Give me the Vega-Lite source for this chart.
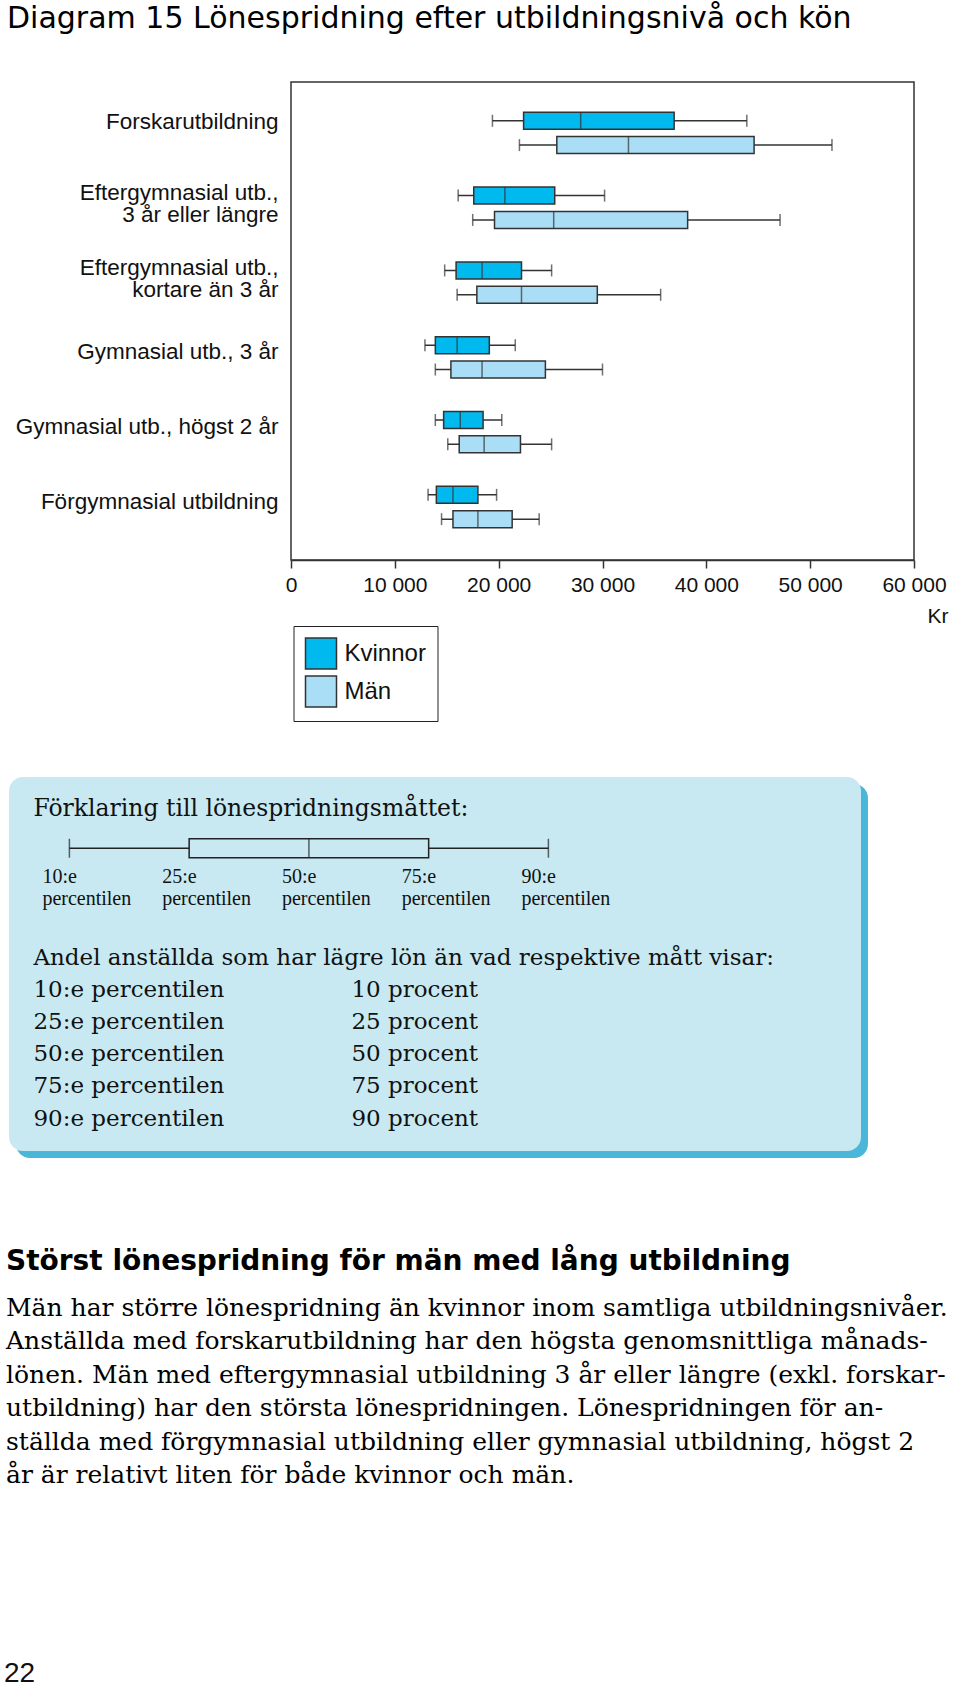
{
  "$schema": "https://vega.github.io/schema/vega-lite/v6.json",
  "padding": {"left": 4, "top": 3, "right": 0, "bottom": 0},
  "background": "white",
  "title": {"text": "Diagram 15 Lönespridning efter utbildningsnivå och kön", "anchor": "start", "dx": 3, "font": "DejaVu Sans", "fontSize": 30, "fontWeight": "normal", "color": "#000", "offset": 47.5},
  "config": {"view": {"stroke": null}, "font": "Liberation Sans"},
  "datasets": {
    "lon": [
      {"utbildning": "Forskarutbildning", "kon": "Kvinnor", "p10": 19400, "p25": 22400, "p50": 27900, "p75": 36900, "p90": 43900},
      {"utbildning": "Forskarutbildning", "kon": "Män", "p10": 22000, "p25": 25600, "p50": 32500, "p75": 44600, "p90": 52100},
      {"utbildning": "Eftergymnasial utb.,\n3 år eller längre", "kon": "Kvinnor", "p10": 16100, "p25": 17600, "p50": 20600, "p75": 25400, "p90": 30200},
      {"utbildning": "Eftergymnasial utb.,\n3 år eller längre", "kon": "Män", "p10": 17500, "p25": 19600, "p50": 25300, "p75": 38200, "p90": 47100},
      {"utbildning": "Eftergymnasial utb.,\nkortare än 3 år", "kon": "Kvinnor", "p10": 14800, "p25": 15900, "p50": 18400, "p75": 22200, "p90": 25100},
      {"utbildning": "Eftergymnasial utb.,\nkortare än 3 år", "kon": "Män", "p10": 16000, "p25": 17900, "p50": 22200, "p75": 29500, "p90": 35600},
      {"utbildning": "Gymnasial utb., 3 år", "kon": "Kvinnor", "p10": 12900, "p25": 13900, "p50": 16000, "p75": 19100, "p90": 21600},
      {"utbildning": "Gymnasial utb., 3 år", "kon": "Män", "p10": 13900, "p25": 15400, "p50": 18400, "p75": 24500, "p90": 30000},
      {"utbildning": "Gymnasial utb., högst 2 år", "kon": "Kvinnor", "p10": 13900, "p25": 14700, "p50": 16300, "p75": 18500, "p90": 20300},
      {"utbildning": "Gymnasial utb., högst 2 år", "kon": "Män", "p10": 15100, "p25": 16200, "p50": 18600, "p75": 22100, "p90": 25100},
      {"utbildning": "Förgymnasial utbildning", "kon": "Kvinnor", "p10": 13200, "p25": 14000, "p50": 15600, "p75": 18000, "p90": 19800},
      {"utbildning": "Förgymnasial utbildning", "kon": "Män", "p10": 14500, "p25": 15600, "p50": 18000, "p75": 21300, "p90": 23900}
    ],
    "exempel": [
      {"rad": "låda", "p10": "10:e", "p25": "25:e", "p50": "50:e", "p75": "75:e", "p90": "90:e"}
    ],
    "etiketter": [
      {"rad": "etikett", "percentil": "10:e", "etikett": "10:e\npercentilen"},
      {"rad": "etikett", "percentil": "25:e", "etikett": "25:e\npercentilen"},
      {"rad": "etikett", "percentil": "50:e", "etikett": "50:e\npercentilen"},
      {"rad": "etikett", "percentil": "75:e", "etikett": "75:e\npercentilen"},
      {"rad": "etikett", "percentil": "90:e", "etikett": "90:e\npercentilen"}
    ],
    "tabell": [
      {"rad": "Andel anställda som har lägre lön än vad respektive mått visar:"},
      {"rad": "10:e percentilen", "andel": "10 procent"},
      {"rad": "25:e percentilen", "andel": "25 procent"},
      {"rad": "50:e percentilen", "andel": "50 procent"},
      {"rad": "75:e percentilen", "andel": "75 procent"},
      {"rad": "90:e percentilen", "andel": "90 procent"}
    ]
  },
  "vconcat": [
    {
      "spacing": 150,
      "vconcat": [
        {
          "width": 623,
          "height": 478,
          "view": {"stroke": "#333", "strokeWidth": 1.5},
          "data": {"name": "lon"},
          "encoding": {
            "y": {"field": "utbildning", "type": "nominal", "sort": null,
              "scale": {"domain": ["Forskarutbildning", "Eftergymnasial utb.,\n3 år eller längre", "Eftergymnasial utb.,\nkortare än 3 år", "Gymnasial utb., 3 år", "Gymnasial utb., högst 2 år", "Förgymnasial utbildning"], "paddingInner": 0, "paddingOuter": 0.195, "align": 0.465},
              "axis": {"title": null, "ticks": false, "domain": false, "labelPadding": 13, "labelFont": "Liberation Sans", "labelFontSize": 22.5, "labelColor": "#111", "labelLimit": 400, "labelLineHeight": 22.5, "labelExpr": "split(datum.label, '\\n')",
                "labelOffset": {"condition": [{"test": "indexof(datum.label, 'Efter') === 0", "value": -15}, {"test": "datum.label === 'Forskarutbildning'", "value": -11}], "value": -5}}},
            "yOffset": {"field": "kon", "type": "nominal", "scale": {"domain": ["Kvinnor", "Män"], "paddingInner": 0, "paddingOuter": 0.539}}
          },
          "layer": [
            {"mark": {"type": "rule", "color": "#333", "strokeWidth": 1.5},
             "encoding": {
               "x": {"field": "p10", "type": "quantitative", "scale": {"domain": [0, 60000], "nice": false},
                 "axis": {"title": "Kr", "values": [0, 10000, 20000, 30000, 40000, 50000, 60000], "labelExpr": "replace(format(datum.value, ',d'), ',', ' ')", "grid": false, "tickSize": 8, "tickWidth": 1.5, "tickColor": "#333", "domainColor": "#333", "domainWidth": 1.5, "labelFont": "Liberation Sans", "labelFontSize": 21, "labelColor": "#111", "labelPadding": 6, "labelFlush": false, "labelOverlap": false, "titleFont": "Liberation Sans", "titleFontSize": 21, "titleFontWeight": "normal", "titleColor": "#111", "titleAnchor": "end", "titleAlign": "right", "titleX": 657, "titlePadding": 10}},
               "x2": {"field": "p90"}}},
            {"mark": {"type": "tick", "orient": "vertical", "size": 12, "thickness": 1.5, "color": "#333"},
             "encoding": {"x": {"field": "p10", "type": "quantitative"}}},
            {"mark": {"type": "tick", "orient": "vertical", "size": 12, "thickness": 1.5, "color": "#333"},
             "encoding": {"x": {"field": "p90", "type": "quantitative"}}},
            {"mark": {"type": "bar", "height": 17, "stroke": "#333", "strokeWidth": 1.5},
             "encoding": {
               "x": {"field": "p25", "type": "quantitative"},
               "x2": {"field": "p75"},
               "fill": {"field": "kon", "type": "nominal", "scale": {"domain": ["Kvinnor", "Män"], "range": ["#00b9ee", "#aadef6"]},
                 "legend": {"title": null, "orient": "none", "legendX": 2.5, "legendY": 544, "direction": "vertical", "symbolType": "square", "symbolSize": 961, "symbolStrokeColor": "#333", "symbolStrokeWidth": 1.5, "labelFont": "Liberation Sans", "labelFontSize": 24, "labelColor": "#111", "labelOffset": 7, "rowPadding": 1, "padding": 11, "strokeColor": "#222"}}}},
            {"mark": {"type": "tick", "orient": "vertical", "size": 17, "thickness": 1.5, "color": "#333"},
             "encoding": {"x": {"field": "p50", "type": "quantitative"}}}
          ]
        },
        {
          "width": 570,
          "height": 374,
          "view": {"stroke": null},
          "layer": [
            {
              "data": {"values": [{"ruta": "förklaring"}]},
              "encoding": {
                "x": {"datum": 0, "type": "quantitative", "scale": {"domain": [0, 1], "range": [-282, 570], "zero": false, "nice": false}, "axis": null},
                "y": {"datum": 0, "type": "quantitative", "scale": {"domain": [0, 1], "range": [0, 374], "zero": false, "nice": false}, "axis": null}
              },
              "layer": [
                {"mark": {"type": "rect", "fill": "#4bb7d8", "cornerRadius": 14},
                 "encoding": {"x": {"datum": 0.0082, "type": "quantitative"}, "x2": {"datum": 1.0082}, "y": {"datum": 0.0187, "type": "quantitative"}, "y2": {"datum": 1.0187}}},
                {"mark": {"type": "rect", "fill": "#c8e9f2", "cornerRadius": 14},
                 "encoding": {"x": {"datum": 0, "type": "quantitative"}, "x2": {"datum": 1}, "y": {"datum": 0, "type": "quantitative"}, "y2": {"datum": 1}}}
              ]
            },
            {
              "encoding": {"y": {"field": "rad", "type": "nominal", "sort": null, "scale": {"type": "point", "domain": ["rubrik", "låda", "etikett"], "range": [32, 110.5], "padding": 0}, "axis": null}},
              "layer": [
                {"data": {"values": [{"rad": "rubrik", "percentil": "10:e", "text": "Förklaring till lönespridningsmåttet:"}]},
                 "mark": {"type": "text", "align": "left", "baseline": "middle", "dx": -36, "font": "DejaVu Serif", "fontSize": 23.5, "color": "#111"},
                 "encoding": {"x": {"field": "percentil", "type": "nominal", "scale": {"type": "point", "domain": ["10:e", "25:e", "50:e", "75:e", "90:e"], "range": [-221.6, 257.4], "padding": 0}, "axis": null}, "text": {"field": "text"}}},
                {"data": {"name": "exempel"},
                 "mark": {"type": "rule", "color": "#222", "strokeWidth": 1.5},
                 "encoding": {"x": {"field": "p10", "type": "nominal", "scale": {"type": "point", "domain": ["10:e", "25:e", "50:e", "75:e", "90:e"], "range": [-221.6, 257.4], "padding": 0}, "axis": null}, "x2": {"field": "p90"}}},
                {"data": {"name": "exempel"},
                 "mark": {"type": "tick", "orient": "vertical", "size": 19, "thickness": 1.5, "color": "#222"},
                 "encoding": {"x": {"field": "p10", "type": "nominal"}}},
                {"data": {"name": "exempel"},
                 "mark": {"type": "tick", "orient": "vertical", "size": 19, "thickness": 1.5, "color": "#222"},
                 "encoding": {"x": {"field": "p90", "type": "nominal"}}},
                {"data": {"name": "exempel"},
                 "mark": {"type": "bar", "height": 19, "fill": "#c8e9f2", "stroke": "#222", "strokeWidth": 1.5},
                 "encoding": {"x": {"field": "p25", "type": "nominal"}, "x2": {"field": "p75"}}},
                {"data": {"name": "exempel"},
                 "mark": {"type": "tick", "orient": "vertical", "size": 19, "thickness": 1.5, "color": "#222"},
                 "encoding": {"x": {"field": "p50", "type": "nominal"}}},
                {"data": {"name": "etiketter"},
                 "mark": {"type": "text", "align": "left", "baseline": "middle", "dx": -27, "dy": -10.5, "font": "Liberation Serif", "fontSize": 20, "lineHeight": 21.5, "lineBreak": "\n", "color": "#111"},
                 "encoding": {"x": {"field": "percentil", "type": "nominal"}, "text": {"field": "etikett"}}}
              ]
            },
            {
              "data": {"name": "tabell"},
              "encoding": {"y": {"field": "rad", "type": "nominal", "sort": null, "scale": {"type": "point", "domain": ["Andel anställda som har lägre lön än vad respektive mått visar:", "10:e percentilen", "25:e percentilen", "50:e percentilen", "75:e percentilen", "90:e percentilen"], "range": [180.5, 341.5], "padding": 0}, "axis": null}},
              "layer": [
                {"mark": {"type": "text", "align": "left", "baseline": "middle", "font": "DejaVu Serif", "fontSize": 23, "color": "#111"},
                 "encoding": {"x": {"datum": "Mått", "type": "nominal", "scale": {"type": "point", "domain": ["Mått", "Andel"], "range": [-257.6, 60.4], "padding": 0}, "axis": null}, "text": {"field": "rad"}}},
                {"transform": [{"filter": "isValid(datum.andel)"}],
                 "mark": {"type": "text", "align": "left", "baseline": "middle", "font": "DejaVu Serif", "fontSize": 23, "color": "#111"},
                 "encoding": {"x": {"datum": "Andel", "type": "nominal"}, "text": {"field": "andel"}}}
              ]
            }
          ],
          "resolve": {"scale": {"x": "independent", "y": "independent"}}
        }
      ]
    },
    {
      "width": 40,
      "height": 24,
      "view": {"stroke": null},
      "title": {"text": "Störst lönespridning för män med lång utbildning",
        "subtitle": ["Män har större lönespridning än kvinnor inom samtliga utbildningsnivåer.", "Anställda med forskarutbildning har den högsta genomsnittliga månads-", "lönen. Män med eftergymnasial utbildning 3 år eller längre (exkl. forskar-", "utbildning) har den största lönespridningen. Lönespridningen för an-", "ställda med förgymnasial utbildning eller gymnasial utbildning, högst 2", "år är relativt liten för både kvinnor och män."],
        "anchor": "start", "frame": "group", "dx": -285, "font": "DejaVu Sans", "fontSize": 28, "fontWeight": "bold", "color": "#000",
        "subtitleFont": "DejaVu Serif", "subtitleFontSize": 25, "subtitleColor": "#000", "subtitleLineHeight": 33.4, "subtitlePadding": 20, "offset": 172},
      "data": {"values": [{"sida": "22"}]},
      "mark": {"type": "text", "align": "left", "baseline": "middle", "font": "Liberation Sans", "fontSize": 28, "color": "#111"},
      "encoding": {"text": {"field": "sida"}, "x": {"field": "sida", "type": "nominal", "scale": {"type": "point", "range": [-287, 0], "padding": 0, "align": 0}, "axis": null}}
    }
  ],
  "spacing": 90
}
